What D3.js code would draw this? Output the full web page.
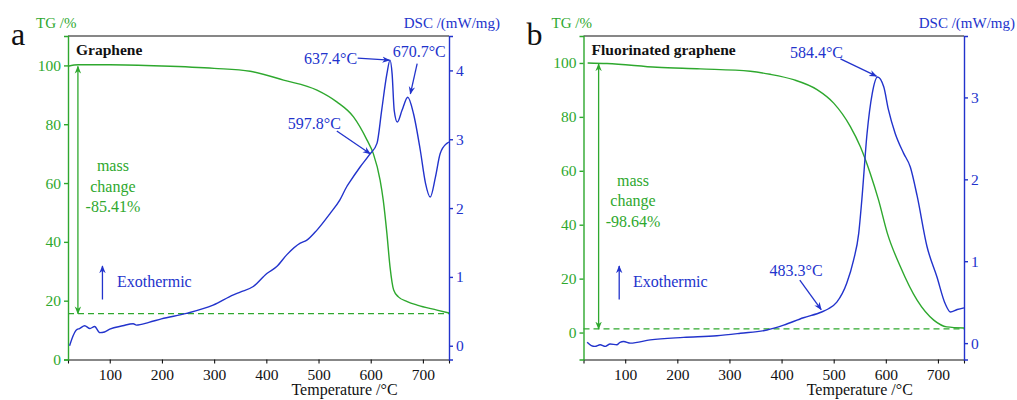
<!DOCTYPE html>
<html><head><meta charset="utf-8">
<script src="https://cdn.jsdelivr.net/npm/d3@7"></script>
<style>
body{margin:0;background:#fff}
svg, svg text{font-family:"Liberation Serif","Times New Roman",Times,"DejaVu Serif",serif !important}
</style>
</head><body>
<svg id="c" width="1017" height="400"></svg>
<script>
// ---------------- DATA ----------------
const tempTicks = [100, 200, 300, 400, 500, 600, 700];
const tgTicksA = [0, 20, 40, 60, 80, 100];
const tgTicksB = [0, 20, 40, 60, 80, 100];
const dscTicksA = [0, 1, 2, 3, 4];
const dscTicksB = [0, 1, 2, 3];

// Panel a : Graphene
const tgA_T = [20, 40, 100, 200, 300, 369, 433, 497, 535, 567, 593, 605, 618, 624, 631, 637, 644, 653, 670, 689, 727, 750];
const tgA_V = [99.7, 100.2, 100.2, 99.8, 99.0, 98.0, 95.0, 91.6, 87.6, 82.5, 74.6, 70, 61, 54.2, 42.9, 31.5, 23.6, 21.3, 19.7, 18.5, 16.8, 15.8];
const dscA_T = [23, 30, 36, 42, 52, 62, 71, 81, 90, 100, 125, 145, 151, 175, 199, 247, 298, 337, 350, 375, 401, 420, 439, 465, 477, 497, 522, 541, 554, 560, 580, 598, 612, 621, 631, 637, 641, 645, 651, 660, 671, 682, 695, 705, 714, 724, 733, 746, 750];
const dscA_V = [0.0, 0.15, 0.23, 0.25, 0.29, 0.25, 0.28, 0.19, 0.2, 0.24, 0.29, 0.32, 0.3, 0.34, 0.39, 0.47, 0.59, 0.74, 0.78, 0.86, 1.05, 1.15, 1.32, 1.49, 1.53, 1.68, 1.92, 2.12, 2.31, 2.38, 2.6, 2.78, 2.94, 3.42, 3.95, 4.15, 3.95, 3.42, 3.25, 3.42, 3.61, 3.37, 2.84, 2.36, 2.16, 2.45, 2.79, 2.94, 2.96];
const residualA = 15.6;

// Panel b : Fluorinated graphene
const tgB_T = [28, 65, 161, 244, 340, 378, 423, 468, 500, 532, 551, 570, 586, 603, 628, 660, 692, 717, 750];
const tgB_V = [100, 99.8, 98.4, 97.8, 96.9, 95.8, 93.8, 90.1, 85.1, 76.4, 69, 59.1, 49.2, 36.8, 24.4, 12, 4.6, 2.1, 1.7];
const dscB_T = [27, 35, 42, 52, 62, 71, 84, 90, 97, 110, 148, 212, 276, 321, 372, 404, 442, 477, 490, 506, 525, 538, 548, 554, 564, 574, 584, 596, 605, 618, 634, 647, 660, 679, 698, 714, 724, 737, 750];
const dscB_V = [0.01, -0.03, -0.04, -0.02, -0.04, -0.01, -0.02, 0.01, 0.02, 0, 0.04, 0.07, 0.09, 0.12, 0.16, 0.22, 0.31, 0.38, 0.42, 0.5, 0.73, 1.01, 1.34, 1.75, 2.56, 3.05, 3.25, 3.13, 2.85, 2.56, 2.32, 2.15, 1.8, 1.18, 0.81, 0.48, 0.38, 0.41, 0.43];
const residualB = 1.36;

// Peak annotations: label, label position (T, DSC), arrow start (T, DSC), arrow tip (T, DSC)
const peaksA = [
  {label: "637.4\u00B0C", lx: 574, ly: 4.18, anchor: "end", x1: 575, y1: 4.18, x2: 636, y2: 4.15},
  {label: "670.7\u00B0C", lx: 693, ly: 4.27, anchor: "middle", x1: 689, y1: 4.10, x2: 676, y2: 3.66},
  {label: "597.8\u00B0C", lx: 492, ly: 3.23, anchor: "middle", x1: 535, y1: 3.12, x2: 599, y2: 2.79}
];
const peaksB = [
  {label: "584.4\u00B0C", lx: 467, ly: 3.55, anchor: "middle", x1: 513, y1: 3.47, x2: 582, y2: 3.26},
  {label: "483.3\u00B0C", lx: 428, ly: 0.89, anchor: "middle", x1: 435, y1: 0.77, x2: 476, y2: 0.41}
];
const massTextA = ["mass", "change", "-85.41%"];
const massTextB = ["mass", "change", "-98.64%"];

// ---------------- DRAW ----------------
const FONT = "Liberation Serif, Times New Roman, Times, DejaVu Serif, serif";
const GREEN = "#2ea82e", BLUE = "#2233cc", BLACK = "#111";
const svg = d3.select("#c");

const defs = svg.append("defs");
function marker(id, color) {
  defs.append("marker").attr("id", id).attr("viewBox", "0 0 10 10")
    .attr("refX", 9).attr("refY", 5).attr("markerWidth", 8).attr("markerHeight", 8)
    .attr("markerUnits", "userSpaceOnUse").attr("orient", "auto-start-reverse")
    .append("path").attr("d", "M0,1 L10,5 L0,9 L3,5 Z").attr("fill", color);
}
marker("arB", BLUE); marker("arG", GREEN);

function panel(cfg) {
  const g = svg.append("g").attr("font-family", FONT);
  const x = d3.scaleLinear().domain([20, 750]).range([cfg.left, cfg.right]);
  const yT = d3.scaleLinear().domain(cfg.tgDom).range([cfg.bottom, cfg.top]);
  const yD = d3.scaleLinear().domain(cfg.dscDom).range([cfg.bottom, cfg.top]);

  // top frame line
  g.append("line").attr("x1", cfg.left).attr("x2", cfg.right).attr("y1", cfg.top).attr("y2", cfg.top)
    .attr("stroke", BLACK).attr("stroke-width", 1.2);

  // bottom axis
  const minorX = d3.range(50, 751, 50).filter(v => v % 100 !== 0);
  const bx = g.append("g").attr("transform", `translate(0,${cfg.bottom})`);
  bx.call(d3.axisBottom(x).tickValues(minorX).tickSize(3).tickFormat(""));
  bx.call(d3.axisBottom(x).tickValues(tempTicks).tickSize(4).tickPadding(5).tickFormat(d3.format("d")));
  bx.attr("font-family", FONT);
  bx.selectAll("path,line").attr("stroke", BLACK).attr("stroke-width", 1.1);
  bx.selectAll("text").attr("font-size", 15.5).attr("fill", BLACK).attr("font-family", FONT);

  // left TG axis
  const lx = g.append("g").attr("transform", `translate(${cfg.left},0)`);
  const minorT = d3.range(-10, 111, 20).filter(v => v >= cfg.tgDom[0]);
  lx.call(d3.axisLeft(yT).tickValues(minorT).tickSize(3).tickFormat(""));
  lx.call(d3.axisLeft(yT).tickValues(cfg.tgTicks).tickSize(4).tickPadding(3).tickFormat(d3.format("d")));
  lx.attr("font-family", FONT);
  lx.selectAll("path,line").attr("stroke", GREEN).attr("stroke-width", 1.4);
  lx.selectAll("text").attr("font-size", 15.5).attr("fill", GREEN).attr("font-family", FONT);

  // right DSC axis
  const rx = g.append("g").attr("transform", `translate(${cfg.right},0)`);
  const minorD = d3.range(-0.5, cfg.dscDom[1], 1).filter(v => v >= cfg.dscDom[0]);
  rx.call(d3.axisRight(yD).tickValues(minorD).tickSize(3).tickFormat(""));
  rx.call(d3.axisRight(yD).tickValues(cfg.dscTicks).tickSize(4).tickPadding(3).tickFormat(d3.format("d")));
  rx.attr("font-family", FONT);
  rx.selectAll("path,line").attr("stroke", BLUE).attr("stroke-width", 1.4);
  rx.selectAll("text").attr("font-size", 15.5).attr("fill", BLUE).attr("font-family", FONT);

  // residual dashed line
  g.append("line").attr("x1", x(20)).attr("x2", x(750)).attr("y1", yT(cfg.residual)).attr("y2", yT(cfg.residual))
    .attr("stroke", GREEN).attr("stroke-width", 1.3).attr("stroke-dasharray", "6,4");

  // TG curve
  const tg = cfg.tgT.map((t, i) => [t, cfg.tgV[i]]);
  g.append("path").datum(tg)
    .attr("d", d3.line().x(d => x(d[0])).y(d => yT(d[1])).curve(d3.curveMonotoneX))
    .attr("fill", "none").attr("stroke", GREEN).attr("stroke-width", 1.4);

  // DSC curve
  const dsc = cfg.dscT.map((t, i) => [t, cfg.dscV[i]]);
  g.append("path").datum(dsc)
    .attr("d", d3.line().x(d => x(d[0])).y(d => yD(d[1])).curve(d3.curveMonotoneX))
    .attr("fill", "none").attr("stroke", BLUE).attr("stroke-width", 1.4);

  // mass change arrow
  g.append("line").attr("x1", x(cfg.massT)).attr("x2", x(cfg.massT))
    .attr("y1", yT(100) + 1).attr("y2", yT(cfg.residual))
    .attr("stroke", GREEN).attr("stroke-width", 1.3)
    .attr("marker-start", "url(#arG)").attr("marker-end", "url(#arG)");
  g.append("text").attr("x", x(cfg.massTextT)).attr("y", yT(cfg.massTextV))
    .attr("text-anchor", "middle").attr("fill", GREEN).attr("font-size", 16)
    .selectAll("tspan").data(cfg.massText).join("tspan")
    .attr("x", x(cfg.massTextT)).attr("dy", (d, i) => i === 0 ? "0.35em" : "1.3em").text(d => d);

  // exothermic arrow
  g.append("line").attr("x1", x(cfg.exoT)).attr("x2", x(cfg.exoT))
    .attr("y1", yT(cfg.exoV[0])).attr("y2", yT(cfg.exoV[1]))
    .attr("stroke", BLUE).attr("stroke-width", 1.3).attr("marker-end", "url(#arB)");
  g.append("text").attr("x", x(cfg.exoTextT)).attr("y", yT(cfg.exoTextV)).attr("dy", "0.35em")
    .attr("fill", BLUE).attr("font-size", 16).text("Exothermic");

  // peaks
  cfg.peaks.forEach(p => {
    g.append("line").attr("x1", x(p.x1)).attr("y1", yD(p.y1)).attr("x2", x(p.x2)).attr("y2", yD(p.y2))
      .attr("stroke", BLUE).attr("stroke-width", 1.3).attr("marker-end", "url(#arB)");
    g.append("text").attr("x", x(p.lx)).attr("y", yD(p.ly)).attr("dy", "0.35em")
      .attr("text-anchor", p.anchor).attr("fill", BLUE).attr("font-size", 16).text(p.label);
  });

  // titles
  g.append("text").attr("x", cfg.left + 8).attr("y", cfg.top + 19).attr("font-weight", "bold")
    .attr("font-size", 15.5).attr("fill", BLACK).text(cfg.title);
  g.append("text").attr("x", cfg.left - 32).attr("y", 28).attr("fill", GREEN).attr("font-size", 15).text("TG /%");
  g.append("text").attr("x", cfg.right + 51).attr("y", 28).attr("text-anchor", "end")
    .attr("fill", BLUE).attr("font-size", 15).text("DSC /(mW/mg)");
  g.append("text").attr("x", cfg.left - 57).attr("y", 45).attr("fill", BLACK).attr("font-size", 32).text(cfg.letter);
  g.append("text").attr("x", (cfg.left + cfg.right) / 2 + 86).attr("y", 395).attr("text-anchor", "middle")
    .attr("fill", BLACK).attr("font-size", 16).text("Temperature /\u00B0C");
}

panel({
  left: 68, right: 449, top: 36, bottom: 359.5,
  tgDom: [0, 110], dscDom: [-0.2, 4.5], tgTicks: tgTicksA, dscTicks: dscTicksA,
  tgT: tgA_T, tgV: tgA_V, dscT: dscA_T, dscV: dscA_V, residual: residualA,
  massT: 39, massTextT: 106, massTextV: 66.1, massText: massTextA,
  exoT: 86, exoV: [20.4, 31.8], exoTextT: 114, exoTextV: 26.4,
  peaks: peaksA, title: "Graphene", letter: "a"
});
panel({
  left: 583.5, right: 964, top: 36, bottom: 359.5,
  tgDom: [-10, 110], dscDom: [-0.2, 3.75], tgTicks: tgTicksB, dscTicks: dscTicksB,
  tgT: tgB_T, tgV: tgB_V, dscT: dscB_T, dscV: dscB_V, residual: residualB,
  massT: 49, massTextT: 115, massTextV: 56.6, massText: massTextB,
  exoT: 88.5, exoV: [12.3, 24.7], exoTextT: 115, exoTextV: 18.8,
  peaks: peaksB, title: "Fluorinated graphene", letter: "b"
});
</script>
</body></html>
